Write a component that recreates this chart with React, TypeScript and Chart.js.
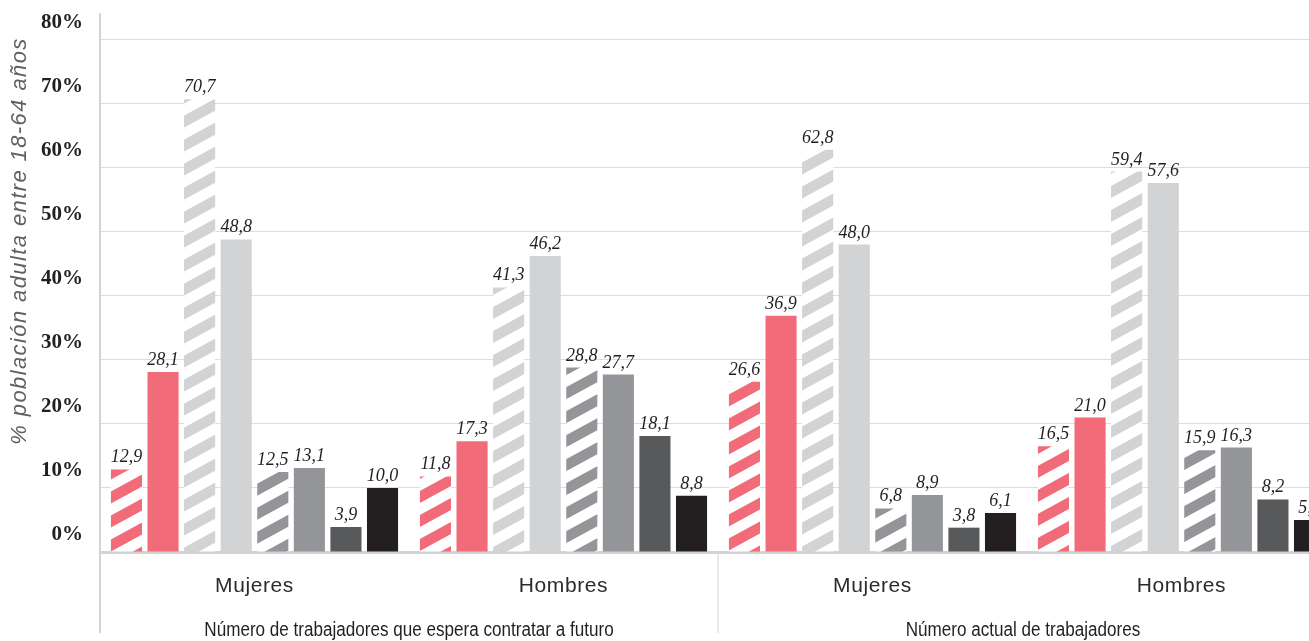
import React, { useEffect, useRef } from "react";
import { Chart, registerables } from "chart.js";

Chart.register(...registerables);

const categories = ["Mujeres", "Hombres", "Mujeres", "Hombres"];
const groupLabels = [
  "Número de trabajadores que espera contratar a futuro",
  "Número actual de trabajadores",
];
const yTickValues = [0, 10, 20, 30, 40, 50, 60, 70, 80];
const yTitle = "% población adulta entre 18-64 años";

const seriesPinkStriped = [12.9, 11.8, 26.6, 16.5];
const seriesPink = [28.1, 17.3, 36.9, 21.0];
const seriesLightStriped = [70.7, 41.3, 62.8, 59.4];
const seriesLight = [48.8, 46.2, 48.0, 57.6];
const seriesMidStriped = [12.5, 28.8, 6.8, 15.9];
const seriesMid = [13.1, 27.7, 8.9, 16.3];
const seriesDark = [3.9, 18.1, 3.8, 8.2];
const seriesBlack = [10.0, 8.8, 6.1, 5.0];

const PINK = "#f16b78";
const LIGHT = "#d1d3d4";
const MID = "#939598";
const DARK = "#58595b";
const BLACK = "#231f20";

function makeStripe(color: string): CanvasPattern | string {
  const c = document.createElement("canvas");
  const W = 44, P = 24, T = 12;
  c.width = W;
  c.height = P;
  const ctx = c.getContext("2d");
  if (!ctx) return color;
  ctx.fillStyle = "#ffffff";
  ctx.fillRect(0, 0, W, P);
  ctx.fillStyle = color;
  for (const k of [-2 * P, -P, 0, P]) {
    ctx.beginPath();
    ctx.moveTo(0, P + k);
    ctx.lineTo(W, k);
    ctx.lineTo(W, k + T);
    ctx.lineTo(0, P + k + T);
    ctx.closePath();
    ctx.fill();
  }
  const p = ctx.createPattern(c, "repeat");
  return p || color;
}

const fmt = (v: number) => v.toFixed(1).replace(".", ",");

const decorPlugin = {
  id: "decor",
  afterDatasetsDraw(chart: any) {
    const ctx = chart.ctx;
    ctx.save();
    ctx.font = "italic 18px 'Liberation Serif', 'DejaVu Serif', serif";
    ctx.fillStyle = BLACK;
    ctx.textAlign = "center";
    ctx.textBaseline = "alphabetic";
    chart.data.datasets.forEach((ds: any, di: number) => {
      const meta = chart.getDatasetMeta(di);
      meta.data.forEach((el: any, i: number) => {
        const v = ds.data[i];
        ctx.fillText(fmt(v), el.x, el.y - 7);
      });
    });
    ctx.restore();
  },
  afterDraw(chart: any) {
    const ctx = chart.ctx;
    const area = chart.chartArea;
    const x = chart.scales.x;
    ctx.save();
    const mid = (x.getPixelForValue(1) + x.getPixelForValue(2)) / 2;
    const lines = [
      { px: area.left, w: 2 },
      { px: mid, w: 1 },
      { px: area.right, w: 1 },
    ];
    ctx.strokeStyle = LIGHT;
    lines.forEach((l) => {
      ctx.lineWidth = l.w;
      ctx.beginPath();
      ctx.moveTo(l.px, area.bottom);
      ctx.lineTo(l.px, 633);
      ctx.stroke();
    });
    // category labels
    ctx.fillStyle = "#2b2b2b";
    ctx.textAlign = "center";
    ctx.textBaseline = "middle";
    ctx.font = "21px 'Liberation Sans', Arial, sans-serif";
    (ctx as any).letterSpacing = "0.6px";
    categories.forEach((c, i) => {
      ctx.fillText(c, x.getPixelForValue(i), 586);
    });
    (ctx as any).letterSpacing = "0px";
    // group labels (condensed)
    ctx.font = "19.5px 'Liberation Sans', Arial, sans-serif";
    ctx.fillStyle = BLACK;
    const centers = [(area.left + mid) / 2, (mid + area.right) / 2 - 4];
    groupLabels.forEach((g, i) => {
      ctx.save();
      ctx.translate(centers[i], 631);
      ctx.scale(0.876, 1);
      ctx.fillText(g, 0, 0);
      ctx.restore();
    });
    // y title
    ctx.translate(20, 241);
    ctx.rotate(-Math.PI / 2);
    ctx.font = "italic 22px 'Liberation Sans', Arial, sans-serif";
    (ctx as any).letterSpacing = "1.4px";
    ctx.fillStyle = "#5f6063";
    ctx.fillText(yTitle, 0, 0);
    (ctx as any).letterSpacing = "0px";
    ctx.restore();
  },
};

export default function App() {
  const ref = useRef<HTMLCanvasElement | null>(null);

  useEffect(() => {
    if (!ref.current) return;
    const ds = (label: string, data: number[], bg: any) => ({
      label,
      data,
      backgroundColor: bg,
      borderWidth: 0,
      categoryPercentage: 0.947,
      barPercentage: 0.85,
    });
    const chart = new Chart(ref.current, {
      type: "bar",
      data: {
        labels: categories,
        datasets: [
          ds("a", seriesPinkStriped, makeStripe(PINK)),
          ds("b", seriesPink, PINK),
          ds("c", seriesLightStriped, makeStripe(LIGHT)),
          ds("d", seriesLight, LIGHT),
          ds("e", seriesMidStriped, makeStripe(MID)),
          ds("f", seriesMid, MID),
          ds("g", seriesDark, DARK),
          ds("h", seriesBlack, BLACK),
        ],
      },
      options: {
        animation: false,
        responsive: false,
        layout: { padding: { top: 14, left: 0, right: 0, bottom: 0 } },
        plugins: {
          legend: { display: false },
          tooltip: { enabled: false },
          title: { display: false },
        },
        scales: {
          x: {
            grid: { display: false },
            border: { display: true, color: LIGHT, width: 3 },
            ticks: { display: false },
            afterFit: (s: any) => {
              s.height = 89;
              s.paddingLeft = 0;
              s.paddingRight = 0;
            },
          },
          y: {
            min: 0,
            max: 84,
            afterBuildTicks: (s: any) => {
              s.ticks = yTickValues.map((v) => ({ value: v }));
            },
            ticks: {
              stepSize: 10,
              callback: (v: any) => v + "%",
              font: { family: "'Liberation Serif', 'DejaVu Serif', serif", size: 21, weight: "bold" },
              color: BLACK,
              padding: 17,
              labelOffset: -17,
            },
            grid: {
              drawTicks: false,
              color: (c: any) => (c.tick && c.tick.value === 0 ? "rgba(0,0,0,0)" : "#dcdddf"),
              lineWidth: 1,
            },
            border: { display: true, color: LIGHT, width: 2 },
            afterFit: (s: any) => {
              s.width = 100;
              s.paddingTop = 0;
              s.paddingBottom = 0;
            },
          },
        },
      },
      plugins: [decorPlugin],
    });
    return () => chart.destroy();
  }, []);

  return (
    <div
      style={{
        position: "absolute",
        left: 0,
        top: 0,
        width: 1309,
        height: 641,
        overflow: "hidden",
        background: "#ffffff",
      }}
    >
      <canvas ref={ref} width={1336} height={641} style={{ display: "block" }} />
    </div>
  );
}
